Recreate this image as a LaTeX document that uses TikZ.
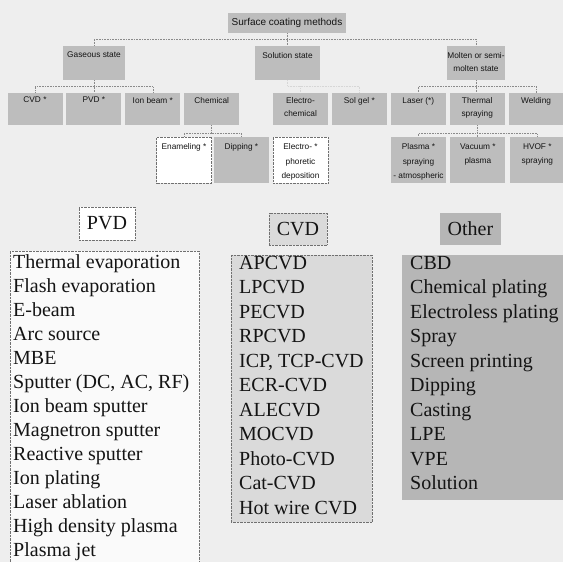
\documentclass[tikz,border=0pt]{standalone}
\usepackage{fontspec}
\setmainfont{Liberation Serif}
\setsansfont{Liberation Sans}
\usepackage{tikz}
\usetikzlibrary{positioning}
\definecolor{PageBg}{HTML}{EEEEEE}
\definecolor{BoxGray}{HTML}{BDBDBD}
\definecolor{OtherGray}{HTML}{B6B6B6}
\definecolor{CvdGray}{HTML}{DADADA}
\definecolor{ListWhite}{HTML}{FAFAFA}
\definecolor{LinkGray}{HTML}{8A8A8A}
\definecolor{EdgeGray}{HTML}{707070}
\definecolor{InkGray}{HTML}{141414}
\newcommand{\cellbox}[3]{\parbox[c][#1][t]{#2}{\centering #3}}
\newcommand{\methodlist}[3]{\parbox[c][#1][t]{#2}{\raggedright #3}}

\begin{document}
\begin{tikzpicture}[x=1pt, y=-1pt,
  catbox/.style={fill=BoxGray, text=InkGray, inner xsep=0pt, inner ysep=4pt,
    font=\sffamily\fontsize{8.3}{13}\selectfont},
  openbox/.style={catbox, fill=white, draw=EdgeGray, densely dotted},
  link/.style={draw=LinkGray, line width=0.6pt, densely dotted},
  headbox/.style={inner sep=0pt, text=InkGray, font=\fontsize{20}{24}\selectfont},
  listbox/.style={anchor=north west, text=InkGray, inner xsep=8pt, inner ysep=1pt}]

\path[use as bounding box, fill=PageBg] (0,0) rectangle (563,562);
\clip (0,0) rectangle (563,562);

% tree of surface coating methods
\node[catbox, inner ysep=0pt, minimum width=118pt, minimum height=20pt,
  font=\sffamily\fontsize{10}{12}\selectfont] (title) at (287,23) {Surface coating methods};

\node[catbox, inner ysep=6pt] (gas) at (94,63) {\cellbox{22pt}{62pt}{Gaseous state}};
\node[catbox, inner ysep=6pt] (sol) at (287.5,63) {\cellbox{22pt}{65pt}{Solution state}};
\node[catbox, inner ysep=6pt] (mol) at (476,63) {\cellbox{22pt}{58pt}{Molten or semi-\\molten state}};

\node[catbox] (cvd) at (35,109) {\cellbox{24pt}{55pt}{CVD *}};
\node[catbox, right=3.5pt of cvd] (pvd) {\cellbox{24pt}{55pt}{PVD *}};
\node[catbox, right=3.5pt of pvd] (ion) {\cellbox{24pt}{55pt}{Ion beam *}};
\node[catbox, right=3.5pt of ion] (chem) {\cellbox{24pt}{55pt}{Chemical}};
\node[catbox] (elec) at (300.5,109) {\cellbox{24pt}{55pt}{Electro-\\chemical}};
\node[catbox, right=3.5pt of elec] (solgel) {\cellbox{24pt}{55pt}{Sol gel *}};
\node[catbox, right=3.5pt of solgel] (laser) {\cellbox{24pt}{55pt}{Laser (*)}};
\node[catbox, right=3.5pt of laser] (therm) {\cellbox{24pt}{55pt}{Thermal\\spraying}};
\node[catbox, right=3.5pt of therm] (weld) {\cellbox{24pt}{55pt}{Welding}};

\tikzset{leaf/.style={inner ysep=6.5pt, font=\sffamily\fontsize{8.3}{14.5}\selectfont}}
\node[openbox, leaf] (enam) at (184,160) {\cellbox{33pt}{55pt}{Enameling *}};
\node[catbox, leaf, right=2pt of enam] (dip) {\cellbox{33pt}{55pt}{Dipping *}};
\node[openbox, leaf] (epd) at (300.5,160) {\cellbox{33pt}{55pt}{Electro- *\\phoretic\\deposition}};
\node[catbox, leaf] (plasma) at (418.5,160) {\cellbox{33pt}{55pt}{Plasma *\\spraying\\- atmospheric}};
\node[catbox, leaf, right=4pt of plasma] (vac) {\cellbox{33pt}{55pt}{Vacuum *\\plasma}};
\node[catbox, leaf, right=4pt of vac] (hvof) {\cellbox{33pt}{55pt}{HVOF *\\spraying}};

\draw[link] (title.south) -- ++(0,6) -| (gas.north);
\draw[link] (title.south) -- ++(0,6) -| (mol.north);
\draw[link] (title.south) -- (title.south |- sol.north);
\draw[link] (gas.south) -- ++(0,6) -| (cvd.north);
\draw[link] (gas.south) -- ++(0,6) -| (ion.north);
\draw[link] (gas.south) -- (gas.south |- pvd.north);
\draw[link, draw=LinkGray!35] (sol.south) -- ++(0,6) -| (elec.north);
\draw[link, draw=LinkGray!35] (sol.south) -- ++(0,6) -| (solgel.north);
\draw[link] (mol.south) -- ++(0,6) -| (laser.north);
\draw[link] (mol.south) -- ++(0,6) -| (weld.north);
\draw[link] (mol.south) -- (mol.south |- therm.north);
\draw[link] (chem.south) -- ++(0,8) -| (enam.north);
\draw[link] (chem.south) -- ++(0,8) -| (dip.north);
\draw[link] (therm.south) -- ++(0,8) -| (plasma.north);
\draw[link] (therm.south) -- ++(0,8) -| (hvof.north);
\draw[link] (therm.south) -- (therm.south |- vac.north);

% PVD / CVD / other lists
\node[headbox, minimum width=56pt, minimum height=33pt, fill=white,
  draw=EdgeGray, densely dotted] (pvdhead) at (107,223.5) {PVD};
\node[headbox, minimum width=58pt, minimum height=32pt, fill=CvdGray,
  draw=EdgeGray, densely dotted] (cvdhead) at (298,229) {CVD};
\node[headbox, minimum width=61pt, minimum height=32pt, fill=OtherGray] (otherhead) at (470.5,229) {Other};

\node[listbox, inner xsep=3pt, inner ysep=3pt, fill=ListWhite, draw=EdgeGray, densely dotted,
  font=\fontsize{20}{24}\selectfont] (pvdlist) at (10,251) {\methodlist{318pt}{183pt}{%
  Thermal evaporation\\Flash evaporation\\E-beam\\Arc source\\MBE\\
  Sputter (DC, AC, RF)\\Ion beam sputter\\Magnetron sputter\\Reactive sputter\\
  Ion plating\\Laser ablation\\High density plasma\\Plasma jet}};
\node[listbox, fill=CvdGray, draw=EdgeGray, densely dotted,
  font=\fontsize{20}{24.5}\selectfont] (cvdlist) at (231,255) {\methodlist{265pt}{125pt}{%
  APCVD\\LPCVD\\PECVD\\RPCVD\\ICP, TCP-CVD\\ECR-CVD\\ALECVD\\MOCVD\\
  Photo-CVD\\Cat-CVD\\Hot wire CVD}};
\node[listbox, fill=OtherGray, font=\fontsize{20}{24.5}\selectfont] (otherlist) at (402,255)
  {\methodlist{243pt}{154pt}{%
  CBD\\Chemical plating\\Electroless plating\\Spray\\Screen printing\\
  Dipping\\Casting\\LPE\\VPE\\Solution}};
\end{tikzpicture}
\end{document}
